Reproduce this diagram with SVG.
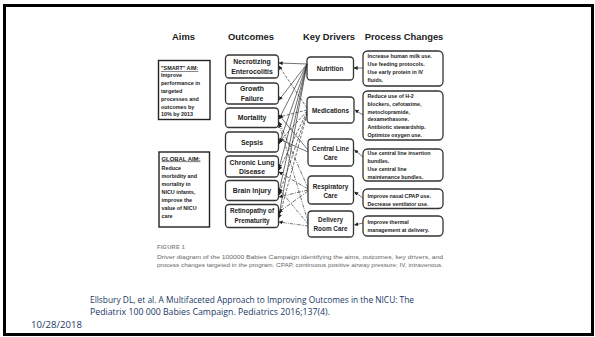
<svg xmlns="http://www.w3.org/2000/svg" width="595" height="337" viewBox="0 0 595 337">
<defs>
<marker id="ah" viewBox="0 0 6 6" refX="5.5" refY="3" markerWidth="4" markerHeight="4" orient="auto" markerUnits="userSpaceOnUse">
<path d="M0,0 L6,3 L0,6 Z" fill="#222"/>
</marker>
<style>
text{font-family:"Liberation Sans",Arial,sans-serif;fill:#222}
.hd{font-size:9.4px;font-weight:bold;text-anchor:middle}
.ob{fill:#fff;stroke:#333;stroke-width:1.3}
.aim{fill:#fff;stroke:#222;stroke-width:1.4}
.ot{font-size:6.9px;font-weight:bold;text-anchor:middle}
.kt{font-size:6.4px;font-weight:bold;text-anchor:middle}
.pt{font-size:5.3px;font-weight:bold}
.at{font-size:5.4px;font-weight:bold}
.cn line{stroke:#333;stroke-width:0.7;marker-end:url(#ah)}
.dsh{stroke-dasharray:3 1.5}
.dd{stroke-dasharray:4 1.2 1 1.2}
.ddd{stroke-dasharray:3 1 0.8 1 0.8 1}
.cap{font-size:5.3px;fill:#666}
.cit{font-family:"Open Sans","Liberation Sans",sans-serif;font-size:9.5px;fill:#203864}
</style>
</defs>
<rect x="0" y="0" width="595" height="337" fill="#fff"/>
<rect x="4.5" y="5.5" width="588" height="329" fill="none" stroke="#000" stroke-width="3"/>

<g id="headers">
<text class="hd" x="183.5" y="39.5">Aims</text>
<text class="hd" x="251" y="39.5">Outcomes</text>
<text class="hd" x="329" y="39.5">Key Drivers</text>
<text class="hd" x="404" y="39.5">Process Changes</text>
</g>

<g id="smart-aim">
<rect class="aim" x="158.5" y="60.5" width="51.5" height="59"/>
<text class="at" x="161" y="70" text-decoration="underline">"SMART" AIM:</text>
<text class="at" x="161" y="77">Improve</text>
<text class="at" x="161" y="85">performance in</text>
<text class="at" x="161" y="93">targeted</text>
<text class="at" x="161" y="101">processes and</text>
<text class="at" x="161" y="108.7">outcomes by</text>
<text class="at" x="161" y="116.3">10% by 2013</text>
</g>

<g id="global-aim">
<rect class="aim" x="159" y="152" width="50.5" height="75"/>
<text class="at" x="161.5" y="160.5" text-decoration="underline" style="font-size:5.9px">GLOBAL AIM:</text>
<text class="at" x="161.5" y="169.5">Reduce</text>
<text class="at" x="161.5" y="177.5">morbidity and</text>
<text class="at" x="161.5" y="185.5">mortality in</text>
<text class="at" x="161.5" y="194">NICU infants,</text>
<text class="at" x="161.5" y="202">improve the</text>
<text class="at" x="161.5" y="210">value of NICU</text>
<text class="at" x="161.5" y="218">care</text>
</g>

<g id="o-nec"><rect class="ob" x="225.5" y="55" width="53" height="23" rx="3.5"/>
<text class="ot" x="252" y="64">Necrotizing</text><text class="ot" x="252" y="73.5">Enterocolitis</text></g>
<g id="o-growth"><rect class="ob" x="225.5" y="83" width="53" height="21" rx="3.5"/>
<text class="ot" x="252" y="91">Growth</text><text class="ot" x="252" y="100.5">Failure</text></g>
<g id="o-mort"><rect class="ob" x="225.5" y="108" width="53" height="19.5" rx="3.5"/>
<text class="ot" x="252" y="120">Mortality</text></g>
<g id="o-sepsis"><rect class="ob" x="225.5" y="132" width="53" height="20" rx="3.5"/>
<text class="ot" x="252" y="144.5">Sepsis</text></g>
<g id="o-cld"><rect class="ob" x="225.5" y="156" width="53" height="21" rx="3.5"/>
<text class="ot" x="252" y="164.5">Chronic Lung</text><text class="ot" x="252" y="174">Disease</text></g>
<g id="o-brain"><rect class="ob" x="225.5" y="180.5" width="53" height="20" rx="3.5"/>
<text class="ot" x="252" y="193">Brain Injury</text></g>
<g id="o-rop"><rect class="ob" x="225.5" y="204.5" width="53" height="23" rx="3.5"/>
<text class="ot" x="252" y="213" style="font-size:6.3px">Retinopathy of</text><text class="ot" x="252" y="223" style="font-size:6.3px">Prematurity</text></g>

<g id="k-nutrition"><rect class="ob" x="307" y="57" width="46.5" height="23" rx="3.5"/>
<text class="kt" x="330" y="71">Nutrition</text></g>
<g id="k-medications"><rect class="ob" x="307" y="97" width="47" height="26" rx="3.5"/>
<text class="kt" x="330.5" y="112.5">Medications</text></g>
<g id="k-central"><rect class="ob" x="308" y="139" width="45.5" height="27" rx="3.5"/>
<text class="kt" x="330.5" y="150.5">Central Line</text><text class="kt" x="330.5" y="159.5">Care</text></g>
<g id="k-resp"><rect class="ob" x="308" y="176" width="45.5" height="28" rx="3.5"/>
<text class="kt" x="330.5" y="188.5">Respiratory</text><text class="kt" x="330.5" y="197.5">Care</text></g>
<g id="k-delivery"><rect class="ob" x="308" y="211" width="45.5" height="26" rx="3.5"/>
<text class="kt" x="330.5" y="222">Delivery</text><text class="kt" x="330.5" y="231">Room Care</text></g>

<g id="p-nutrition"><rect class="ob" x="363" y="51" width="80" height="35" rx="4.5"/>
<text class="pt" x="367.5" y="58">Increase human milk use.</text>
<text class="pt" x="367.5" y="66">Use feeding protocols.</text>
<text class="pt" x="367.5" y="74">Use early protein in IV</text>
<text class="pt" x="367.5" y="82">fluids.</text></g>
<g id="p-medications"><rect class="ob" x="363" y="91" width="80" height="49" rx="4.5"/>
<text class="pt" x="367.5" y="98">Reduce use of H-2</text>
<text class="pt" x="367.5" y="105.8">blockers, cefotaxime,</text>
<text class="pt" x="367.5" y="113.6">metoclopramide,</text>
<text class="pt" x="367.5" y="121.4">dexamethasone.</text>
<text class="pt" x="367.5" y="129.2">Antibiotic stewardship.</text>
<text class="pt" x="367.5" y="137">Optimize oxygen use.</text></g>
<g id="p-central"><rect class="ob" x="363" y="149" width="80" height="32" rx="4.5"/>
<text class="pt" x="367.5" y="155">Use central line insertion</text>
<text class="pt" x="367.5" y="163">bundles.</text>
<text class="pt" x="367.5" y="171">Use central line</text>
<text class="pt" x="367.5" y="178.5">maintenance bundles.</text></g>
<g id="p-resp"><rect class="ob" x="363" y="189" width="80" height="19.5" rx="4.5"/>
<text class="pt" x="367.5" y="197.5">Improve nasal CPAP use.</text>
<text class="pt" x="367.5" y="205.5">Decrease ventilator use.</text></g>
<g id="p-delivery"><rect class="ob" x="363" y="216" width="80" height="20" rx="4.5"/>
<text class="pt" x="367.5" y="223.5">Improve thermal</text>
<text class="pt" x="367.5" y="231.5">management at delivery.</text></g>

<g id="connectors" class="cn">
<line x1="363" y1="68" x2="354" y2="68"/>
<line x1="363" y1="115" x2="355" y2="110"/>
<line x1="363" y1="157" x2="354.5" y2="150"/>
<line x1="363" y1="198" x2="354.5" y2="192"/>
<line x1="363" y1="223" x2="354.5" y2="225"/>

<line x1="307" y1="64" x2="279" y2="63"/>
<line x1="307" y1="64" x2="279" y2="100"/>
<line x1="307" y1="64" x2="279" y2="119"/>
<line x1="307" y1="64" x2="279" y2="144"/>
<line x1="307" y1="64" x2="279" y2="168"/>
<line x1="307" y1="64" x2="279" y2="192"/>
<line x1="307" y1="64" x2="279" y2="215"/>

<line class="dsh" x1="307" y1="108" x2="279" y2="66"/>
<line class="dsh" x1="307" y1="110" x2="279" y2="117"/>
<line class="dsh" x1="307" y1="111" x2="279" y2="142"/>
<line class="dsh" x1="307" y1="112" x2="279" y2="170"/>
<line class="dsh" x1="307" y1="113" x2="279" y2="195"/>
<line class="dsh" x1="307" y1="114" x2="279" y2="218"/>

<line x1="308" y1="150" x2="279" y2="115"/>
<line x1="308" y1="152" x2="279" y2="139"/>

<line class="dd" x1="308" y1="188" x2="279" y2="122"/>
<line class="dd" x1="308" y1="189" x2="279" y2="172"/>
<line class="dd" x1="308" y1="190" x2="279" y2="197"/>
<line class="dd" x1="308" y1="191" x2="279" y2="212"/>

<line class="ddd" x1="308" y1="222" x2="279" y2="124"/>
<line class="ddd" x1="308" y1="224" x2="279" y2="189"/>
<line class="ddd" x1="308" y1="226" x2="279" y2="222"/>
</g>

<g id="caption">
<text x="157" y="249" style="font-family:'Liberation Sans',sans-serif;font-size:5.6px;fill:#8a8a8a;font-weight:bold;letter-spacing:0.3px">FIGURE 1</text>
<text class="cap" x="157" y="258.5" textLength="286" lengthAdjust="spacingAndGlyphs">Driver diagram of the 100000 Babies Campaign identifying the aims, outcomes, key drivers, and</text>
<text class="cap" x="157" y="266.5" textLength="286" lengthAdjust="spacingAndGlyphs">process changes targeted in the program. CPAP, continuous positive airway pressure; IV, intravenous.</text>
</g>

<g id="citation">
<text class="cit" x="90" y="302.5" textLength="324" lengthAdjust="spacingAndGlyphs">Ellsbury DL, et al. A Multifaceted Approach to Improving Outcomes in the NICU: The</text>
<text class="cit" x="90" y="315" textLength="240" lengthAdjust="spacingAndGlyphs">Pediatrix 100 000 Babies Campaign. Pediatrics 2016;137(4).</text>
<text class="cit" x="31" y="328" textLength="51" lengthAdjust="spacingAndGlyphs">10/28/2018</text>
</g>
</svg>
